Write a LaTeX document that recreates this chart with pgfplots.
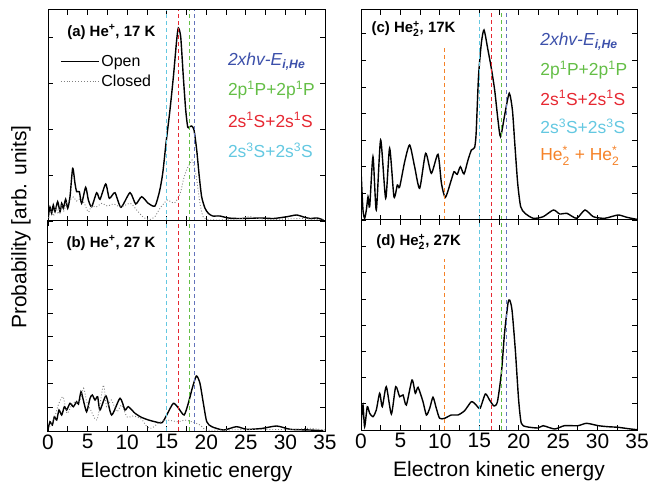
\documentclass[border=0pt]{standalone}
\usepackage{amsmath}
\usepackage{fontspec}
\setmainfont{Liberation Sans}
\usepackage{pgfplots}
\pgfplotsset{compat=1.18}

\definecolor{cBlue}{RGB}{60,80,170}
\definecolor{cGreen}{RGB}{100,190,70}
\definecolor{cRed}{RGB}{230,40,50}
\definecolor{cCyan}{RGB}{100,200,225}
\definecolor{cOrange}{RGB}{245,130,40}

\pgfplotsset{
  panel/.style={scale only axis, xmin=0, xmax=35, ymin=0,
    xtick={0,5,...,35}, minor x tick num=1,
    yticklabel=\empty,
    major tick length=5bp, minor tick length=5bp,
    tick style={black, line width=0.8bp},
    axis line style={line width=1bp},
    every tick label/.append style={font=\fontsize{21}{24}\selectfont},
    /pgf/number format/assume math mode=true,
    label style={font=\fontsize{21}{24}\selectfont},
    xlabel style={yshift=-6bp},
  },
  open/.style={black, line width=1.4bp, smooth, tension=0.4, mark=none},
  closed/.style={gray, dotted, line width=0.9bp, smooth, tension=0.4, mark=none},
  vl/.style={dash pattern=on 4bp off 3bp, line width=1bp, mark=none},
}
\tikzset{
  lab/.style={font=\bfseries\fontsize{15}{18}\selectfont, anchor=west},
  tag/.style={font=\fontsize{17.5}{20}\selectfont, anchor=west},
}
% He with a subscript and a superscript stacked
\newcommand{\Hetwo}[1]{He$_{\text{2}}^{\text{#1}}$}

% dashed level lines, #1 = top of the panel
\newcommand{\levels}[1]{%
  \addplot[vl, cCyan] coordinates {(15.0,0) (15.0,#1)};
  \addplot[vl, cRed] coordinates {(16.55,0) (16.55,#1)};
  \addplot[vl, cGreen] coordinates {(17.85,0) (17.85,#1)};
  \addplot[vl, cBlue!80] coordinates {(18.5,0) (18.5,#1)};
}

\begin{document}
\begin{tikzpicture}

% (a) He+, 17 K
\begin{axis}[panel, at={(48bp,263bp)}, anchor=south west,
  width=277bp, height=211bp, ymax=211, ytick distance=46,
  xticklabel=\empty,
  legend style={at={(axis cs:1.5,168)}, anchor=north west, draw=none, fill=none,
    inner sep=0pt, row sep=3bp, font=\fontsize{16}{19}\selectfont,
    legend cell align=left,
    /tikz/every even column/.append style={column sep=3bp}},
  legend image code/.code={\draw[#1] (0bp,0bp) -- (38bp,0bp);}]
\addplot[open] coordinates {
  (0.04,4.3) (0.25,14) (0.46,7.7) (0.67,16) (0.88,9.3) (1.22,19.3) (1.52,9.3)
  (1.73,17.7) (1.94,12.7) (2.23,21.7) (2.49,12.7) (2.78,24.3) (3.12,52.7)
  (3.41,37.7) (3.62,29.3) (3.96,29.3) (4.25,17.7) (4.76,33.7) (5.10,21)
  (5.52,14.3) (6.15,28.3) (6.57,21.7) (7.29,37) (7.75,22.7) (8.46,28.3)
  (9.22,13.7) (10.36,28.3) (11.08,17) (11.83,24.3) (12.67,17.7) (13.52,15)
  (14.1,30) (14.5,48) (14.91,77.7) (15.41,111) (15.84,144) (16.26,181)
  (16.47,193) (16.77,184) (17.1,144) (17.4,111) (17.65,94) (17.85,94)
  (18.16,95) (18.45,91) (18.79,71) (19.12,44) (19.42,24) (19.84,12.7)
  (20.26,7.7) (20.8,5) (21.7,5) (22.8,3) (24,2.5) (25.5,2.7) (27,3)
  (28.5,2.5) (30.2,4.3) (31.4,6) (32.3,4) (33.1,2.5) (34.0,3) (34.8,1)};
\addlegendentry{Open}
\addplot[closed] coordinates {
  (0.1,3) (0.4,12) (0.7,5) (1.0,14) (1.3,7) (1.7,16) (2.0,10) (2.4,19)
  (2.8,21) (3.2,24) (3.6,20) (4.0,22) (4.5,19) (5.1,9) (5.5,15) (6.1,14)
  (6.8,17.7) (7.5,15) (8.3,17) (9.2,14) (10.4,17.7) (11.2,11) (12.0,4)
  (12.5,2) (12.9,1.5) (13.5,4.3) (14.15,12.7) (14.8,19) (15.1,21) (15.6,19)
  (16.0,18) (16.5,24) (16.8,30) (17.1,41) (17.5,51) (17.9,57) (18.2,61)
  (18.5,54) (18.8,41) (19.2,17.7) (19.6,4.3) (20.2,1.5) (21.5,1) (23,1.5)
  (24.5,2.5) (25.5,4.5) (26.5,2.5) (28,1.5) (30,2) (32,2.5) (34,1.5) (35,1)};
\addlegendentry{Closed}
\levels{211}
\node[lab] at (axis cs:2.0,189) {(a) He\textsuperscript{+}, 17 K};
\node[tag, cBlue] at (axis cs:22.3,159) {\textit{2xhv-E}\textsubscript{\textbf{\textit{i,He}}}};
\node[tag, cGreen] at (axis cs:22.3,131) {2p\textsuperscript{1}P+2p\textsuperscript{1}P};
\node[tag, cRed] at (axis cs:22.3,101) {2s\textsuperscript{1}S+2s\textsuperscript{1}S};
\node[tag, cCyan] at (axis cs:22.3,71) {2s\textsuperscript{3}S+2s\textsuperscript{3}S};
\end{axis}

% (b) He+, 27 K
\begin{axis}[panel, at={(48bp,53bp)}, anchor=south west,
  width=277bp, height=210bp, ymax=210, ytick distance=23.6,
  xlabel={Electron kinetic energy}]
\addplot[open] coordinates {
  (0.04,2.7) (0.25,9.3) (0.55,6) (0.8,14.3) (1.1,11) (1.39,21) (1.73,16)
  (2.07,24.3) (2.36,21) (2.78,27.7) (3.2,24.3) (3.62,29.3) (3.85,27)
  (4.17,39.3) (4.46,31) (4.88,19.3) (5.31,32.7) (5.6,36) (5.94,31)
  (6.27,34.3) (6.57,21) (7.33,35) (8.04,16) (9.1,32.7) (9.73,21) (10.15,24.3)
  (11.0,17.7) (11.8,13.7) (12.7,11) (13.5,9.3) (14.4,8.3) (15.0,16)
  (15.84,27.7) (16.5,22.7) (17.2,16) (17.74,28) (18.2,42) (18.75,55)
  (19.2,47.7) (19.63,27.7) (20.06,9.3) (20.7,4.3) (22.2,1) (23.8,4.3)
  (25.1,1.7) (27,2.5) (28.9,5) (30.6,1.7) (33.1,1) (34.8,0.3)};
\addplot[closed] coordinates {
  (0.2,4) (0.8,12.7) (1.3,26) (1.9,34.3) (2.4,17.7) (3.0,26) (3.4,29.3)
  (4.0,29) (4.5,42.7) (4.9,29) (5.4,21) (6.2,11) (7.0,46) (7.4,24.3)
  (8.0,31) (8.7,19.3) (9.3,26) (10.0,14) (10.8,15) (11.8,12) (12.5,4.3)
  (13.1,2.7) (13.9,7.7) (14.8,11) (15.6,10.3) (16.5,9.3) (17.3,11)
  (18.15,9.3) (19.2,6) (20,1) (22,1) (25,1.5) (28,1.5) (31,1.5) (33,2.7)
  (35,1)};
\levels{210}
\node[lab] at (axis cs:1.9,188) {(b) He\textsuperscript{+}, 27 K};
\end{axis}

% (c) He2+, 17K
\begin{axis}[panel, at={(361bp,264bp)}, anchor=south west,
  width=276bp, height=210bp, ymax=210, ytick distance=26.6,
  xticklabel=\empty]
\addplot[open] coordinates {
  (0.04,43.3) (0.25,10) (0.46,1.7) (0.68,10) (0.89,23.3) (1.1,13.3)
  (1.52,63.3) (1.94,10) (2.49,80) (3.13,21.7) (3.63,71.7) (4.18,23.3)
  (4.61,35) (4.9,33) (5.54,58.3) (6.17,75) (6.8,53.3) (7.44,31.7) (8.2,66.7)
  (8.92,46.7) (9.76,65.7) (10.2,36.7) (10.7,22.7) (11.45,40) (11.8,48.3)
  (12.2,45.7) (12.6,53.3) (13.06,46) (13.57,60) (14.0,70) (14.4,72.3)
  (14.6,86.7) (14.9,143) (15.26,176.7) (15.6,190) (16.1,170) (16.5,153)
  (16.95,130) (17.37,100) (17.7,83.3) (18.26,106.7) (18.8,126.7) (19.2,110)
  (19.5,76.7) (19.87,36.7) (20.25,13.3) (20.8,6.7) (21.85,1.7) (23.1,3.3)
  (24.4,10) (25.2,6) (26.1,6.7) (27.35,1.7) (28.4,10) (29.46,3.3) (30.9,1.7)
  (32.6,5) (33.7,2.7) (34.96,0.7)};
\addplot[vl, cOrange] coordinates {(10.6,0) (10.6,173)};
\levels{210}
\node[lab] at (axis cs:0.9,191) {(c) \Hetwo{+}, 17K};
\node[tag, cBlue] at (axis cs:22.3,178) {\textit{2xhv-E}\textsubscript{\textbf{\textit{i,He}}}};
\node[tag, cGreen] at (axis cs:22.3,150) {2p\textsuperscript{1}P+2p\textsuperscript{1}P};
\node[tag, cRed] at (axis cs:22.3,122) {2s\textsuperscript{1}S+2s\textsuperscript{1}S};
\node[tag, cCyan] at (axis cs:22.3,94) {2s\textsuperscript{3}S+2s\textsuperscript{3}S};
\node[tag, cOrange] at (axis cs:22.3,64) {\Hetwo{*} + \Hetwo{*}};
\end{axis}

% (d) He2+, 27K
\begin{axis}[panel, at={(361bp,54bp)}, anchor=south west,
  width=276bp, height=210bp, ymax=210, ytick distance=26.2,
  xlabel={Electron kinetic energy}]
\addplot[open] coordinates {
  (0.04,10) (0.25,25) (0.46,3.3) (0.8,23.3) (1.1,16.7) (1.52,13.3) (1.94,20)
  (2.37,36.7) (2.7,23.3) (3.21,43.3) (3.85,16) (4.4,43.3) (4.9,33.3)
  (5.33,35) (5.75,25) (6.47,50) (6.89,36.7) (7.23,42.7) (7.86,28.3) (8.29,15)
  (8.71,21.7) (9.13,32.7) (9.55,21.7) (9.97,11.7) (10.6,11.7) (11.45,15)
  (12.3,15) (13.14,19.3) (14.0,28.3) (14.6,25) (15.1,21.7) (15.77,36)
  (16.3,30) (16.87,24) (17.3,28.3) (17.8,56.7) (18.2,96.7) (18.64,126.7)
  (18.85,130) (19.15,120) (19.57,80) (19.99,30) (20.33,6.7) (20.96,3.3)
  (22.44,2) (23.1,4.3) (24.55,1) (25.8,4.3) (27.5,4.3) (28.6,6.7) (30.1,4.3)
  (31.3,3.3) (32.6,2.7) (33.9,1.3) (35,0.3)};
\addplot[vl, cOrange] coordinates {(10.6,0) (10.6,171)};
\levels{210}
\node[lab] at (axis cs:1.5,188) {(d) \Hetwo{+}, 27K};
\end{axis}

\node[rotate=90, font=\fontsize{21}{24}\selectfont] at (21bp,257bp) {Probability [arb. units]};

\pgfresetboundingbox
\path[use as bounding box] (0bp,0bp) rectangle (648bp,484bp);
\end{tikzpicture}
\end{document}
